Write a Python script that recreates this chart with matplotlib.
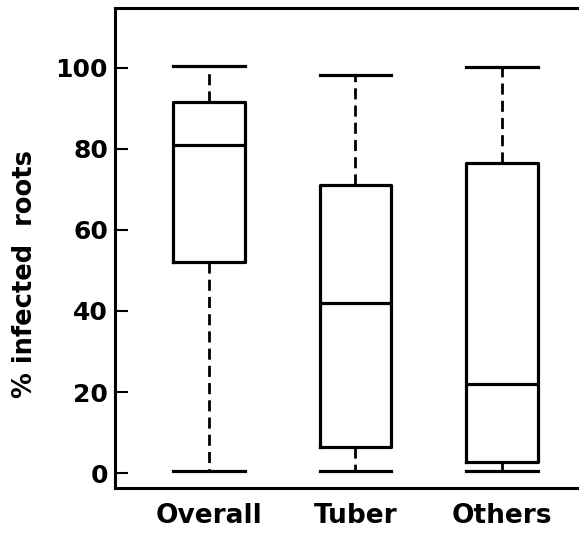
import matplotlib
matplotlib.use("Agg")
import matplotlib.pyplot as plt

categories = ["Overall", "Tuber", "Others"]
whisker_low = [0.5, 0.5, 0.5]
q1 = [52, 6.5, 2.7]
median = [81, 42, 22]
q3 = [91.5, 71, 76.5]
whisker_high = [100.5, 98.3, 100.2]
yticks = [0, 20, 40, 60, 80, 100]

plt.rcParams['font.family'] = ['DejaVu Sans']
plt.rcParams['font.weight'] = 'bold'

fig = plt.figure(figsize=(5.79, 5.33), dpi=100)
ax = fig.add_axes([115/579, 45/533, 1 - 115/579, 480/533])

stats = []
for i, c in enumerate(categories):
    stats.append(dict(label=c, whislo=whisker_low[i], q1=q1[i], med=median[i],
                      q3=q3[i], whishi=whisker_high[i], fliers=[]))

lw = 2.3
ax.bxp(stats, positions=[1, 2, 3], widths=0.49, showfliers=False,
       boxprops=dict(color='black', linewidth=lw),
       medianprops=dict(color='black', linewidth=lw),
       whiskerprops=dict(color='black', linewidth=2.0, linestyle=(0, (4, 2.2))),
       capprops=dict(color='black', linewidth=lw),
       capwidths=0.49)

ax.set_xlim(0.358, 3.526)
ax.set_ylim(-3.7, 114.8)
ax.set_yticks(yticks)
ax.set_yticklabels([str(v) for v in yticks], fontsize=18, fontweight='bold')
ax.set_xticks([1, 2, 3])
ax.set_xticklabels(categories, fontsize=19, fontweight='bold')
ax.tick_params(axis='y', direction='in', length=9, width=1.5, pad=5)
ax.tick_params(axis='x', length=0, pad=11)
for s in ['left', 'bottom', 'top']:
    ax.spines[s].set_linewidth(2.2)
ax.spines['right'].set_visible(False)
ax.set_ylabel("% infected  roots", fontsize=18.5, fontweight='bold')
ax.yaxis.set_label_coords(-0.165, 0.445)

fig.savefig("out.png", dpi=100)
